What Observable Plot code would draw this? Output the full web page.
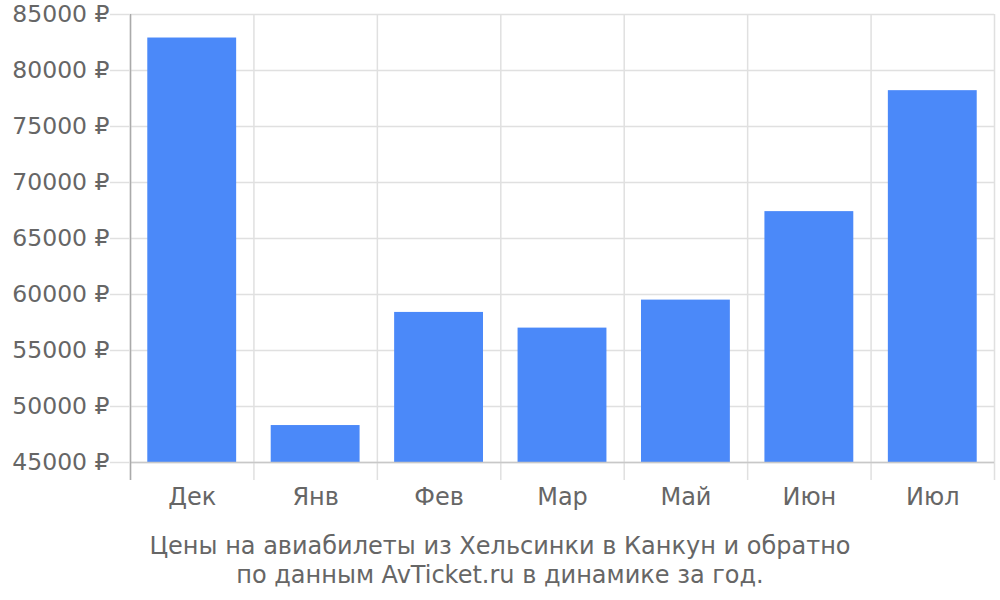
<!DOCTYPE html>
<html>
<head>
<meta charset="utf-8">
<script src="https://cdn.jsdelivr.net/npm/d3@7"></script>
<script src="https://cdn.jsdelivr.net/npm/@observablehq/plot@0.6"></script>
<style>
  body { margin: 0; background: #fff; }
  #caption { width: 1000px; text-align: center; font-family: "DejaVu Sans", sans-serif; font-size: 24px; color: #666; line-height: 29px; padding-top: 12px; }
</style>
</head>
<body>
<div id="chart"></div>
<div id="caption">Цены на авиабилеты из Хельсинки в Канкун и обратно<br>по данным AvTicket.ru в динамике за год.</div>
<script>
const months = ["Дек", "Янв", "Фев", "Мар", "Май", "Июн", "Июл"];
const prices = [82900, 48300, 58400, 57000, 59500, 67400, 78200];
const yTicks = [45000, 50000, 55000, 60000, 65000, 70000, 75000, 80000, 85000];
const yMin = 45000, yMax = 85000;

const data = months.map((m, i) => ({month: m, price: prices[i]}));

const W = 1000, H = 520, mL = 130, mR = 6, mT = 14, mB = 40;
const step = (W - mL - mR) / months.length;

const plot = Plot.plot({
  width: W, height: H,
  marginLeft: mL, marginRight: mR, marginTop: mT, marginBottom: mB,
  style: {fontFamily: "DejaVu Sans, sans-serif", fontSize: "23px", color: "#666", background: "#fff"},
  x: {domain: months, paddingInner: 0.28, paddingOuter: 0.14, round: false, label: null},
  y: {domain: [yMin, yMax], range: [462, 14], label: null},
  marks: [
    Plot.ruleY(yTicks, {stroke: "#e0e0e0", strokeWidth: 1.5}),
    Plot.ruleX(months, {x: d => d, dx: -step / 2, stroke: "#e0e0e0", strokeWidth: 1.5}),
    Plot.ruleX([months[months.length - 1]], {x: d => d, dx: step / 2, stroke: "#e0e0e0", strokeWidth: 1.5}),
    Plot.barY(data, {x: "month", y1: yMin, y2: "price", fill: "#4b89f9"}),
    Plot.ruleY([yMin], {stroke: "#c8c8c8", strokeWidth: 1.5}),
    Plot.ruleX([months[0]], {x: d => d, dx: -step / 2, stroke: "#aaa", strokeWidth: 1.5}),
    Plot.axisY(yTicks, {tickSize: 20, tickPadding: 1, stroke: "#e0e0e0", strokeWidth: 1.5, tickFormat: d => d + " ₽", fill: "#666", fontSize: 23.5, label: null}),
    Plot.axisX({tickSize: 0, tickPadding: 7, fill: "#666", fontSize: 24, label: null})
  ]
});
document.getElementById("chart").appendChild(plot);
</script>
</body>
</html>
